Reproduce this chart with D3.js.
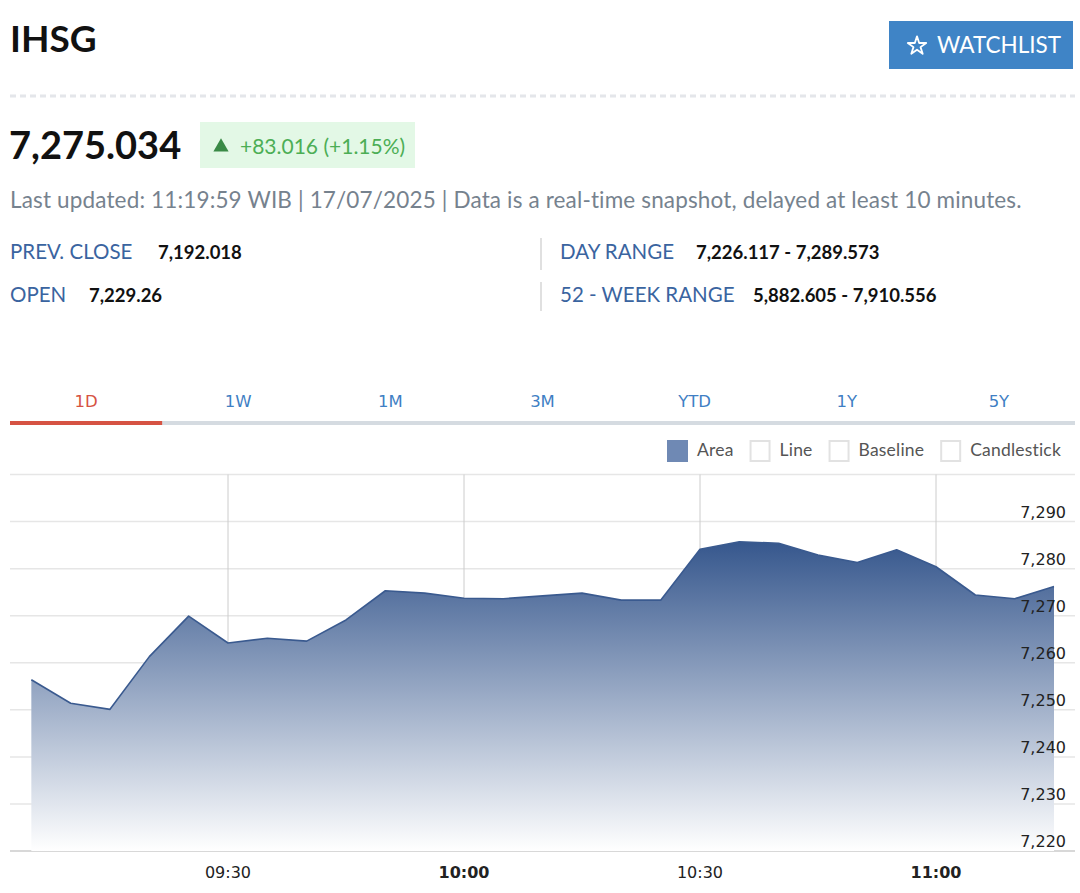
<!DOCTYPE html>
<html>
<head>
<meta charset="utf-8">
<script src="https://cdn.jsdelivr.net/npm/d3@7"></script>
<style>
  html, body { margin: 0; padding: 0; background: #fff; }
  svg { display: block; }
</style>
</head>
<body>
<div id="chart"></div>
<script>
// intraday IHSG, 5 minute points
var times = ["09:05","09:10","09:15","09:20","09:25","09:30","09:35","09:40","09:45",
             "09:50","09:55","10:00","10:05","10:10","10:15","10:20","10:25","10:30",
             "10:35","10:40","10:45","10:50","10:55","11:00","11:05","11:10","11:15"];
var values = [7256.4, 7251.4, 7250.1, 7261.3, 7269.9, 7264.2, 7265.2, 7264.6, 7269.1,
              7275.3, 7274.8, 7273.7, 7273.6, 7274.2, 7274.8, 7273.3, 7273.3, 7284.1,
              7285.7, 7285.4, 7282.9, 7281.3, 7284.0, 7280.4, 7274.4, 7273.6, 7276.2];
var yTicks = [7220, 7230, 7240, 7250, 7260, 7270, 7280, 7290, 7300];
var xTicks = ["09:30", "10:00", "10:30", "11:00"];
var xTickBold = ["10:00", "11:00"];
var tabs = ["1D", "1W", "1M", "3M", "YTD", "1Y", "5Y"];
var legendItems = ["Area", "Line", "Baseline", "Candlestick"];
var stats = [
  ["PREV. CLOSE", "7,192.018"], ["OPEN", "7,229.26"],
  ["DAY RANGE", "7,226.117 - 7,289.573"], ["52 - WEEK RANGE", "5,882.605 - 7,910.556"]
];

var W = 1080, H = 893;
var headFont = "Lato, 'Open Sans', sans-serif";
var chartFont = "'DejaVu Sans', Verdana, sans-serif";
var parse = d3.timeParse("%H:%M");
var data = times.map(function(t, i) { return {t: parse(t), v: values[i]}; });

var svg = d3.select("#chart").append("svg")
    .attr("width", W)
    .attr("height", H);

/* Header. */
svg.append("text")
    .attr("x", 10).attr("y", 52)
    .style("font", "bold 37px " + headFont)
    .attr("fill", "#111")
    .text("IHSG");

var btn = svg.append("g").attr("transform", "translate(889,21)");
btn.append("rect").attr("width", 184).attr("height", 48).attr("fill", "#3f84c6");
btn.append("path")
    .attr("transform", "translate(28,25)")
    .attr("d", d3.symbol(d3.symbolStar, 105)())
    .attr("fill", "none").attr("stroke", "#fff").attr("stroke-width", 1.8)
    .attr("stroke-linejoin", "round");
btn.append("text")
    .attr("x", 48).attr("y", 32)
    .style("font", "22.5px " + headFont)
    .attr("fill", "#fff")
    .text("WATCHLIST");

svg.append("line")
    .attr("x1", 10).attr("x2", 1075).attr("y1", 96).attr("y2", 96)
    .attr("stroke", "#e4e6ea").attr("stroke-width", 3)
    .attr("stroke-dasharray", "6,4");

svg.append("text")
    .attr("x", 9).attr("y", 159)
    .style("font", "bold 38px " + headFont)
    .attr("fill", "#111")
    .text("7,275.034");

svg.append("rect")
    .attr("x", 200).attr("y", 122).attr("width", 215).attr("height", 46)
    .attr("fill", "#e3f8e6");
svg.append("path")
    .attr("transform", "translate(221,147)")
    .attr("d", d3.symbol(d3.symbolTriangle, 100)())
    .attr("fill", "#3a8a46");
svg.append("text")
    .attr("x", 240).attr("y", 154)
    .style("font", "21px " + headFont)
    .attr("fill", "#4cae55")
    .text("+83.016 (+1.15%)");

svg.append("text")
    .attr("x", 10).attr("y", 208)
    .style("font", "22.5px " + headFont)
    .style("letter-spacing", "0.15px")
    .attr("fill", "#76828e")
    .text("Last updated: 11:19:59 WIB | 17/07/2025 | Data is a real-time snapshot, delayed at least 10 minutes.");

var statPos = [[10, 259, 158], [10, 302, 89], [560, 259, 696], [560, 302, 753]];
stats.forEach(function(s, i) {
  var p = statPos[i];
  svg.append("text")
      .attr("x", p[0]).attr("y", p[1])
      .style("font", "20.5px " + headFont)
      .attr("fill", "#3a64a0")
      .text(s[0]);
  svg.append("text")
      .attr("x", p[2]).attr("y", p[1])
      .style("font", "bold 18.5px " + headFont)
      .attr("fill", "#111")
      .text(s[1]);
});
[[238, 270], [282, 311]].forEach(function(r) {
  svg.append("line")
      .attr("x1", 541).attr("x2", 541).attr("y1", r[0]).attr("y2", r[1])
      .attr("stroke", "#e0e0e0").attr("stroke-width", 2);
});

/* Range tabs. */
var tabX = d3.scaleBand().domain(tabs).range([10, 1075]);
svg.append("rect")
    .attr("x", 10).attr("y", 421).attr("width", 1065).attr("height", 4)
    .attr("fill", "#d5dbe1");
svg.append("rect")
    .attr("x", tabX("1D")).attr("y", 421).attr("width", tabX.bandwidth()).attr("height", 4)
    .attr("fill", "#d65343");
svg.selectAll("text.tab")
    .data(tabs)
  .enter().append("text")
    .attr("class", "tab")
    .attr("x", function(d) { return tabX(d) + tabX.bandwidth() / 2; })
    .attr("y", 407)
    .attr("text-anchor", "middle")
    .style("font", "16.5px " + chartFont)
    .attr("fill", function(d, i) { return i === 0 ? "#d65343" : "#3f7fc4"; })
    .text(function(d) { return d; });

/* Chart type legend. */
var lx = 667;
legendItems.forEach(function(d, i) {
  svg.append("rect")
      .attr("x", i === 0 ? lx : lx + 1).attr("y", i === 0 ? 440 : 441)
      .attr("width", i === 0 ? 21 : 19).attr("height", i === 0 ? 22 : 20)
      .attr("fill", i === 0 ? "#6f89b4" : "#fff")
      .attr("stroke", i === 0 ? "none" : "#e2e2e2")
      .attr("stroke-width", 2);
  var t = svg.append("text")
      .attr("x", lx + 30).attr("y", 456)
      .style("font", "17.5px " + headFont)
      .style("letter-spacing", "0.2px")
      .attr("fill", "#555")
      .text(d);
  lx += 30 + t.node().getComputedTextLength() + 16;
});

/* Scales. */
var x = d3.scaleTime()
    .domain([parse("09:30"), parse("11:00")])
    .range([228, 936]);
var y = d3.scaleLinear()
    .domain([7220, 7300])
    .range([851, 474.5]);

var plotL = 10, plotR = 1075;

var defs = svg.append("defs");
var grad = defs.append("linearGradient")
    .attr("id", "areaGrad")
    .attr("x1", 0).attr("y1", 0).attr("x2", 0).attr("y2", 1);
grad.append("stop").attr("offset", "0%").attr("stop-color", "#36578d");
grad.append("stop").attr("offset", "100%").attr("stop-color", "#ffffff");

/* Grid. */
svg.append("g")
    .selectAll("line")
    .data(yTicks)
  .enter().append("line")
    .attr("x1", plotL).attr("x2", plotR)
    .attr("y1", function(d) { return y(d); })
    .attr("y2", function(d) { return y(d); })
    .attr("stroke", function(d) { return d === 7220 ? "#d8d8d8" : "#e6e6e6"; })
    .attr("stroke-width", function(d) { return d === 7220 ? 2 : 1.5; });

svg.append("g")
    .selectAll("line")
    .data(xTicks)
  .enter().append("line")
    .attr("x1", function(d) { return x(parse(d)); })
    .attr("x2", function(d) { return x(parse(d)); })
    .attr("y1", y(7300)).attr("y2", y(7220))
    .attr("stroke", "#cccccc").attr("stroke-width", 1);

/* The area. */
var area = d3.area()
    .x(function(d) { return x(d.t); })
    .y0(y(7220))
    .y1(function(d) { return y(d.v); });
var line = d3.line()
    .x(function(d) { return x(d.t); })
    .y(function(d) { return y(d.v); });

svg.append("path")
    .datum(data)
    .attr("d", area)
    .attr("fill", "url(#areaGrad)");
svg.append("path")
    .datum(data)
    .attr("d", line)
    .attr("fill", "none")
    .attr("stroke", "#3a5a8f")
    .attr("stroke-width", 1.6)
    .attr("stroke-linejoin", "round");

/* Axes labels. */
svg.append("g")
    .selectAll("text")
    .data(yTicks.filter(function(d) { return d < 7300; }))
  .enter().append("text")
    .attr("x", 1066)
    .attr("y", function(d) { return y(d) - 4; })
    .attr("text-anchor", "end")
    .style("font", "16px " + chartFont)
    .attr("fill", "#222")
    .text(d3.format(","));

svg.append("g")
    .selectAll("text")
    .data(xTicks)
  .enter().append("text")
    .attr("x", function(d) { return x(parse(d)); })
    .attr("y", 878)
    .attr("text-anchor", "middle")
    .style("font", function(d) {
      return (xTickBold.indexOf(d) >= 0 ? "bold " : "") + "16px " + chartFont;
    })
    .attr("fill", "#222")
    .text(function(d) { return d; });
</script>
</body>
</html>
